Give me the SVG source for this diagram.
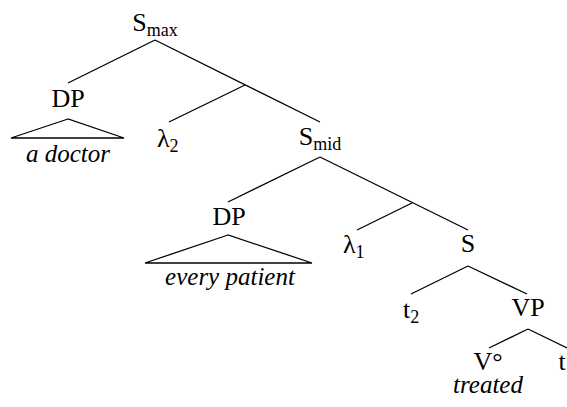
<svg xmlns="http://www.w3.org/2000/svg" width="567" height="407" viewBox="0 0 567 407">
<style>
text{font-family:"Liberation Serif","Times New Roman",serif;font-size:26px;fill:#000}
.m{text-anchor:middle}
.i{font-style:italic;font-size:25px}
.s{font-size:18px}
line,polygon{stroke:#000;stroke-width:1.3;fill:none}
</style>
<rect width="567" height="407" fill="#fff"/>
<g id="connectors">
<line x1="155" y1="40" x2="68" y2="83"/>
<line x1="155" y1="40" x2="320" y2="122"/>
<line x1="245" y1="85" x2="169" y2="122"/>
<line x1="320" y1="157" x2="228" y2="202"/>
<line x1="320" y1="157" x2="468" y2="230"/>
<line x1="412" y1="203" x2="357" y2="230"/>
<line x1="468" y1="266" x2="411" y2="294"/>
<line x1="468" y1="266" x2="527" y2="294"/>
<line x1="528" y1="329" x2="489" y2="348"/>
<line x1="528" y1="329" x2="567" y2="348"/>
</g>
<g id="smax"><text class="m" x="155" y="31">S<tspan class="s" dy="5">max</tspan></text></g>
<g id="dp1"><text class="m" x="68" y="107">DP</text>
<polygon points="68,119 11,138 124,138"/>
<text class="m i" x="68" y="162">a doctor</text></g>
<g id="lambda2"><text x="157" y="147">λ<tspan class="s" dy="5">2</tspan></text></g>
<g id="smid"><text class="m" x="320" y="145">S<tspan class="s" dy="5">mid</tspan></text></g>
<g id="dp2"><text class="m" x="229" y="225">DP</text>
<polygon points="228,235 145,263 312,263"/>
<text class="m i" x="230" y="285">every patient</text></g>
<g id="lambda1"><text x="343" y="253">λ<tspan class="s" dy="5">1</tspan></text></g>
<g id="s"><text class="m" x="468" y="252">S</text></g>
<g id="t2"><text x="403" y="318">t<tspan class="s" dy="5">2</tspan></text></g>
<g id="vp"><text class="m" x="528" y="316">VP</text></g>
<g id="v"><text class="m" x="488" y="370">V°</text>
<text class="m i" x="488" y="393">treated</text></g>
<g id="t"><text class="m" x="562" y="370">t</text></g>
</svg>
